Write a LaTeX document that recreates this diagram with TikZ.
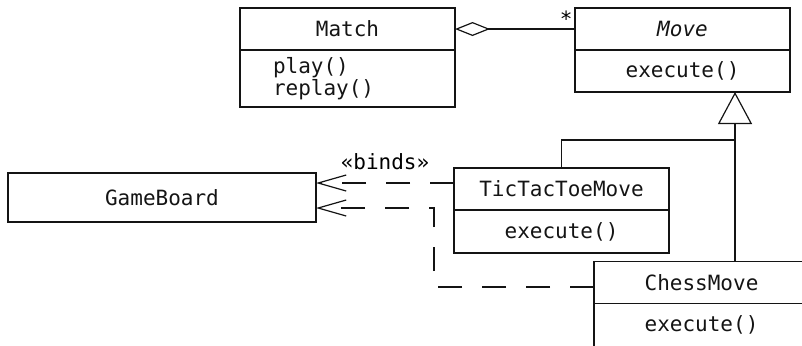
\documentclass[tikz,border=0pt]{standalone}
\usepackage{fontspec}
\setmainfont{DejaVu Sans Mono}
\usetikzlibrary{positioning,arrows.meta}
\definecolor{cEdge}{RGB}{20,20,20}
\tikzset{
  cname/.style={
    rectangle, draw=cEdge, line width=0.6pt, outer sep=0pt,
    align=center, text=cEdge, font=\fontsize{10.5}{11}\selectfont,
    minimum width=107.5pt, inner sep=0pt,
    minimum height=21pt,
  },
  cops/.style={
    rectangle, draw=cEdge, line width=0.6pt, outer sep=0pt,
    align=left, text=cEdge, font=\fontsize{10.5}{11}\selectfont,
    text width=74.5pt, inner xsep=16.5pt, inner ysep=0pt,
  },
  line/.style={line width=0.6pt, draw=cEdge},
  agg/.style={line, {Diamond[open, length=17.5pt, width=7pt]}-},
  gen/.style={line, -{Triangle[open, length=16pt, width=17pt]}},
  dep/.style={line, dash pattern=on 12pt off 10pt,
    -{Straight Barb[length=14pt, width=8pt, line width=0.6pt]}},
}

\begin{document}
\begin{tikzpicture}[x=0.5pt, y=-0.5pt]
\useasboundingbox (0,0) rectangle (802,345);

% classes
\node[cname] (match) at (347.5,29) {Match};
\node[cops, minimum height=28.5pt, below=0pt of match] (matchops)
  {play()\\replay()};

\node[cname] (move) at (682.5,29) {\itshape Move};
\node[cname, below=0pt of move] (moveops) {execute()};

\node[cname] (ttt) at (561.5,189) {TicTacToeMove};
\node[cname, minimum height=21.5pt, below=0pt of ttt] (tttops) {execute()};

\node[cname] (chess) at (701.5,282.5) {ChessMove};
\node[cname, minimum height=21.5pt, below=0pt of chess] (chessops) {execute()};

\node[cname, minimum width=154pt, minimum height=24.5pt] (board)
  at (162,197.5) {GameBoard};

\coordinate (join) at (735,140);
\coordinate (bend) at (434,208);

% aggregation
\draw[agg] (match.east) -- (move.west)
  node[above left, inner sep=1pt, font=\fontsize{10.5}{11}\selectfont] {*};

% inheritance
\draw[gen] (chess.north -| join) -- (moveops.south -| join);
\draw[line] (ttt.north) |- (join);

% dependencies
\draw[dep] ([yshift=3pt]ttt.west) -- ([yshift=7.25pt]board.east)
  node[midway, above=3pt, font=\fontsize{10.5}{11}\selectfont] {«binds»};
\draw[dep] ([yshift=-2.25pt]chess.west) -| (bend) -- ([yshift=-5.25pt]board.east);

\end{tikzpicture}
\end{document}
